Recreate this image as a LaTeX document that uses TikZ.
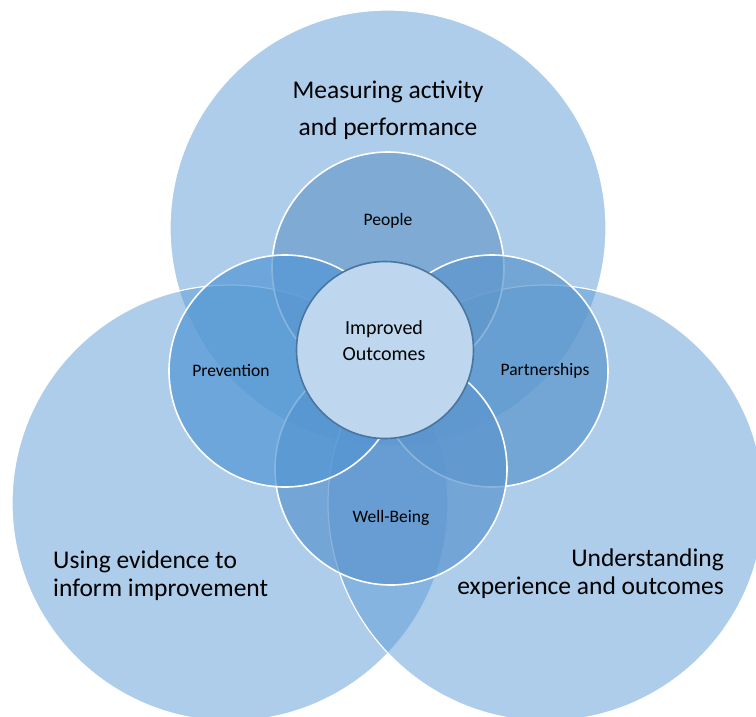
\documentclass[tikz,border=0pt]{standalone}
\usepackage{fontspec}
\setmainfont{Carlito}
\usetikzlibrary{positioning}
\definecolor{vennblue}{HTML}{5B9BD5}
\definecolor{peoplefill}{RGB}{107,155,204}
\definecolor{partnerfill}{RGB}{91,150,204}
\definecolor{wellfill}{RGB}{91,148,206}
\definecolor{preventfill}{RGB}{83,150,212}
\definecolor{hubfill}{RGB}{190,215,238}
\definecolor{hubline}{RGB}{74,117,158}
\tikzset{
    bigring/.style={circle,draw=white,line width=1.2pt,fill=vennblue,
        fill opacity=0.5,minimum size=436pt,inner sep=0pt},
    petal/.style={circle,draw=white,line width=1.6pt,fill opacity=0.7,
        minimum size=232pt,inner sep=0pt},
    hub/.style={circle,draw=hubline,line width=1.6pt,fill=hubfill,
        minimum size=177pt,inner sep=0pt},
    biglabel/.style={font=\fontsize{25.5}{28}\selectfont,inner sep=0pt},
    petallabel/.style={font=\fontsize{17.5}{20}\selectfont,inner sep=0pt},
    hublabel/.style={font=\fontsize{20}{26}\selectfont,align=center,inner sep=0pt}
}
\begin{document}
\begin{tikzpicture}[x=1pt,y=-1pt]
    \useasboundingbox (0,0) rectangle (756,716);
    \clip (0,0) rectangle (756,716);
    % three outer circles
    \node[bigring] (measure)    at (388,228) {};
    \node[bigring] (evidence)   at (230,503) {};
    \node[bigring] (experience) at (546,503) {};
    % four petals
    \node[petal,fill=peoplefill]  (people)  at (388,268) {};
    \node[petal,fill=partnerfill] (partner) at (492,371) {};
    \node[petal,fill=wellfill]    (well)    at (391,469) {};
    \node[petal,fill=preventfill] (prevent) at (285,371) {};
    % centre
    \node[hub] (outcome) at (385,350) {};
    % labels
    \node[biglabel,align=center] (measuretext) at (388,110)
        {Measuring activity\\[9pt]and performance};
    \node[biglabel,align=left,anchor=west] (evidencetext) at (53,576)
        {Using evidence to\\inform improvement};
    \node[biglabel,align=right,anchor=east] (experiencetext) at (724,574)
        {Understanding\\experience and outcomes};
    \node[petallabel] (peopletext)  at (people.center)  [yshift=47pt]  {People};
    \node[petallabel] (partnertext) at (partner.center) [xshift=53pt]  {Partnerships};
    \node[petallabel] (welltext)    at (well.center)    [yshift=-49pt] {Well-Being};
    \node[petallabel] (preventtext) at (prevent.center) [xshift=-54pt] {Prevention};
    \node[hublabel] (outcometext) at (384,341) {Improved\\Outcomes};
\end{tikzpicture}
\end{document}
